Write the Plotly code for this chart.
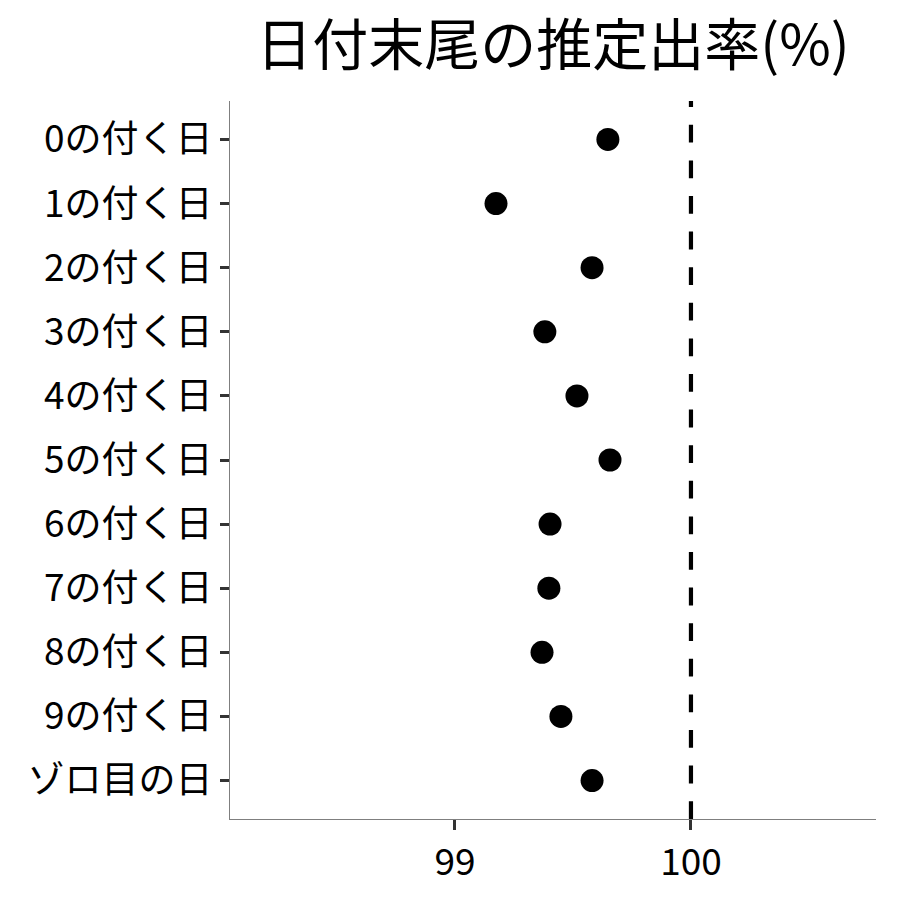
import plotly.graph_objects as go

categories = ["0の付く日", "1の付く日", "2の付く日", "3の付く日", "4の付く日",
              "5の付く日", "6の付く日", "7の付く日", "8の付く日", "9の付く日", "ゾロ目の日"]
rates = [99.648, 99.174, 99.581, 99.381, 99.517, 99.657, 99.403, 99.398, 99.369, 99.449, 99.581]
reference_value = 100
x_ticks = [99, 100]
title_text = "日付末尾の推定出率(%)"

FONT = "Noto Sans CJK JP"

fig = go.Figure()
fig.add_trace(go.Scatter(
    x=rates, y=categories, mode="markers",
    marker=dict(color="black", size=23, line=dict(width=0)),
    showlegend=False,
))

fig.add_shape(type="line", x0=reference_value, x1=reference_value, y0=0, y1=1,
              xref="x", yref="paper",
              line=dict(color="black", width=4.2, dash="17.8px,17.8px"))

fig.update_layout(
    width=900, height=900,
    margin=dict(l=222, r=32, t=93, b=89, autoexpand=False),
    paper_bgcolor="white", plot_bgcolor="white",
    font=dict(family=FONT, color="black"),
    title=dict(text=title_text, x=0.5, xanchor="center", xref="paper",
               y=1 - 37 / 900, yanchor="middle", yref="container",
               font=dict(size=56, family=FONT, color="black")),
)
fig.update_xaxes(
    range=[98.047, 100.784], tickvals=x_ticks, ticktext=[str(v) for v in x_ticks],
    showline=True, linecolor="#7f7f7f", linewidth=1.2,
    ticks="outside", ticklen=10, tickwidth=3, tickcolor="#333333",
    showgrid=False, zeroline=False, automargin=False,
    tickfont=dict(size=37, family=FONT, color="black"),
)
fig.update_yaxes(
    categoryorder="array", categoryarray=categories,
    range=[len(categories) - 0.4, -0.6],
    showline=True, linecolor="#7f7f7f", linewidth=1.2,
    ticks="outside", ticklen=9, tickwidth=3, tickcolor="#333333",
    showgrid=False, zeroline=False, automargin=False,
    tickfont=dict(size=37, family=FONT, color="black"),
)

fig.write_html("out.html")
